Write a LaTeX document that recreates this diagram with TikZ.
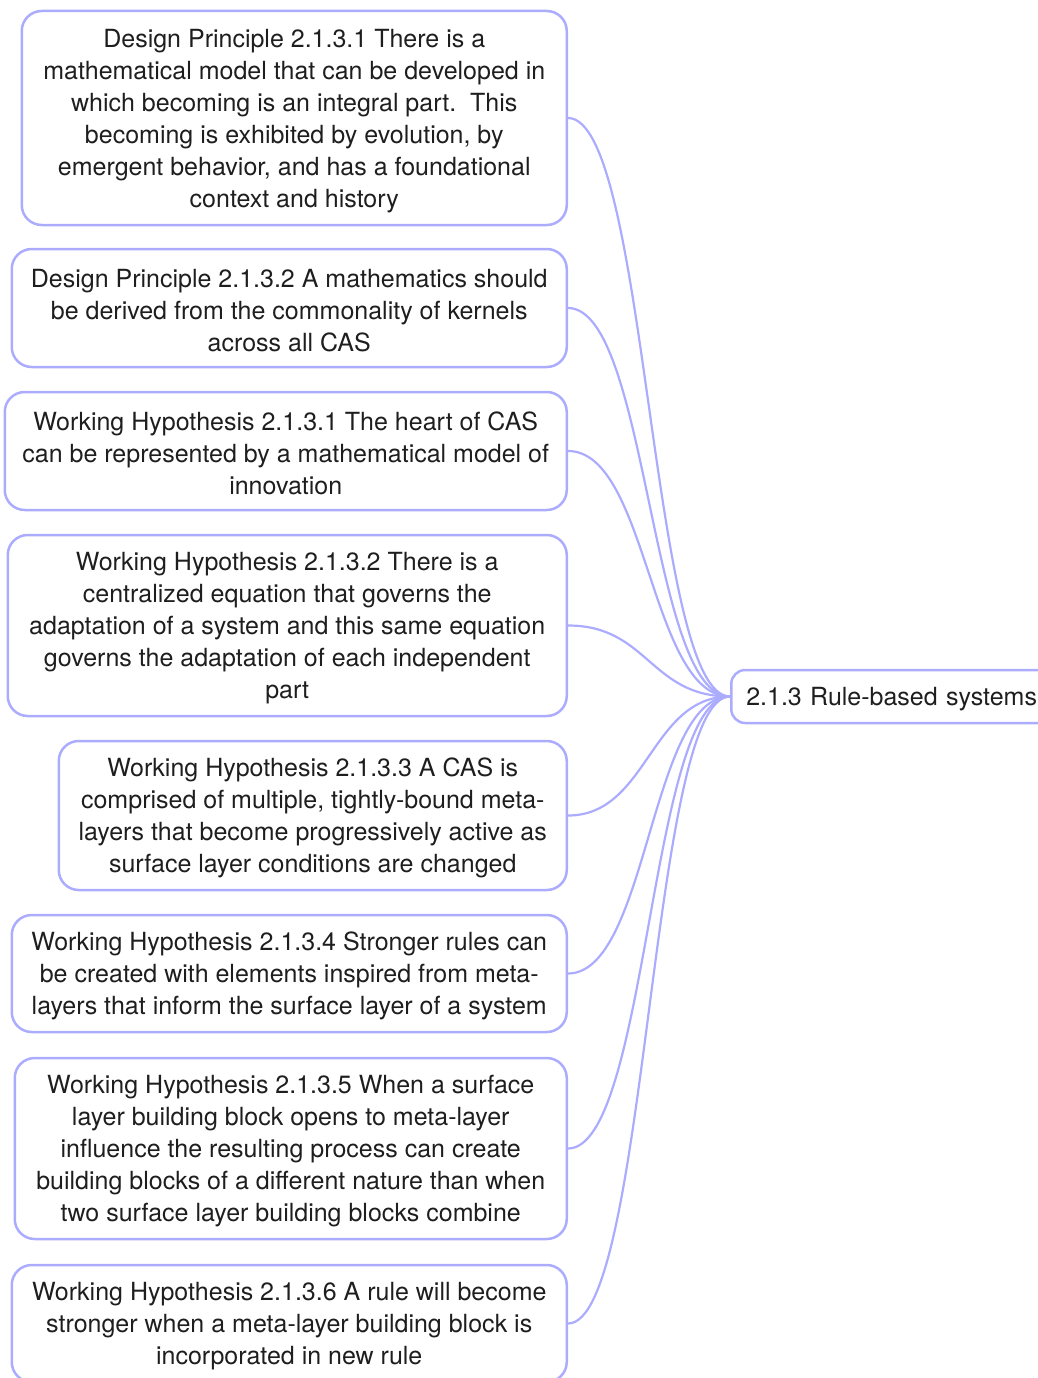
\documentclass[tikz,border=0pt]{standalone}
\usepackage{fontspec}
\setmainfont{TeX Gyre Heros}
\usetikzlibrary{positioning}
\definecolor{mapline}{RGB}{172,172,255}
\definecolor{maptext}{RGB}{30,30,30}
\tikzset{
        x=1pt, y=-1pt,
        idea/.style = {draw=mapline, line width=2.5pt, rounded corners=20pt, align=flush center,
                anchor=east, text=maptext, font=\fontsize{25}{32}\selectfont, inner xsep=10pt,
                execute at begin node={\rule{0pt}{24pt}}},
        topic/.style = {draw=mapline, line width=2.5pt, rounded corners=14pt, anchor=west,
                text=maptext, font=\fontsize{25}{32}\selectfont, inner xsep=13pt,
                minimum height=53pt, minimum width=340pt, text width=310pt,
                execute at begin node={\rule{0pt}{24pt}}},
        link/.style = {draw=mapline, line width=2.2pt}
}

\begin{document}
\begin{tikzpicture}
        \useasboundingbox (0,0) rectangle (1038,1378);

        % Root topic
        \node[topic] (root) at (730,696.5) {2.1.3 Rule-based systems};

        % Design principles
        \node[idea, minimum width=545pt, text width=522pt, minimum height=214pt] (dp1) at (568,118)
                {Design Principle 2.1.3.1 There is a\\mathematical model that can be developed in\\which becoming is an integral part.\ \ This\\becoming is exhibited by evolution, by\\emergent behavior, and has a foundational\\context and history};
        \node[idea, minimum width=555pt, text width=532pt, minimum height=118pt] (dp2) at (568,308)
                {Design Principle 2.1.3.2 A mathematics should\\be derived from the commonality of kernels\\across all CAS};

        % Working hypotheses
        \node[idea, minimum width=562pt, text width=539pt, minimum height=118pt] (wh1) at (568,451)
                {Working Hypothesis 2.1.3.1 The heart of CAS\\can be represented by a mathematical model of\\innovation};
        \node[idea, minimum width=559pt, text width=536pt, minimum height=181pt] (wh2) at (568,625.5)
                {Working Hypothesis 2.1.3.2 There is a\\centralized equation that governs the\\adaptation of a system and this same equation\\governs the adaptation of each independent\\part};
        \node[idea, minimum width=508pt, text width=485pt, minimum height=149pt] (wh3) at (568,815.5)
                {Working Hypothesis 2.1.3.3 A CAS is\\comprised of multiple, tightly-bound meta-\\layers that become progressively active as\\surface layer conditions are changed};
        \node[idea, minimum width=555pt, text width=532pt, minimum height=117pt] (wh4) at (568,973.5)
                {Working Hypothesis 2.1.3.4 Stronger rules can\\be created with elements inspired from meta-\\layers that inform the surface layer of a system};
        \node[idea, minimum width=552pt, text width=529pt, minimum height=181pt] (wh5) at (568,1148.5)
                {Working Hypothesis 2.1.3.5 When a surface\\layer building block opens to meta-layer\\influence the resulting process can create\\building blocks of a different nature than when\\two surface layer building blocks combine};
        \node[idea, minimum width=555pt, text width=532pt, minimum height=117pt] (wh6) at (568,1323.5)
                {Working Hypothesis 2.1.3.6 A rule will become\\stronger when a meta-layer building block is\\incorporated in new rule};

        % Links
        \draw[link] (dp1.east) .. controls +(80,0) and +(-80,0) .. (root.west);
        \draw[link] (dp2.east) .. controls +(80,0) and +(-80,0) .. (root.west);
        \draw[link] (wh1.east) .. controls +(80,0) and +(-80,0) .. (root.west);
        \draw[link] (wh2.east) .. controls +(80,0) and +(-80,0) .. (root.west);
        \draw[link] (wh3.east) .. controls +(80,0) and +(-80,0) .. (root.west);
        \draw[link] (wh4.east) .. controls +(80,0) and +(-80,0) .. (root.west);
        \draw[link] (wh5.east) .. controls +(80,0) and +(-80,0) .. (root.west);
        \draw[link] (wh6.east) .. controls +(80,0) and +(-80,0) .. (root.west);

\end{tikzpicture}
\end{document}
